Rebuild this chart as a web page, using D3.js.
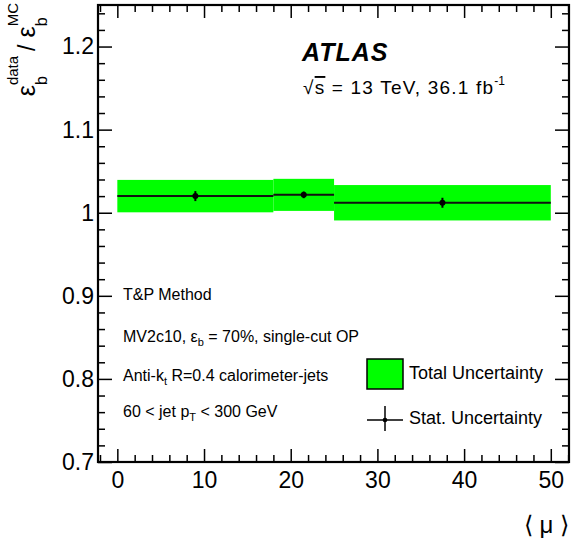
<!DOCTYPE html>
<html>
<head>
<meta charset="utf-8">
<script src="https://cdn.jsdelivr.net/npm/d3@7"></script>
<style>
  html, body { margin: 0; padding: 0; background: #fff; }
  svg text { font-family: "Liberation Sans", Arial, Helvetica, sans-serif; }
</style>
</head>
<body>
<svg id="chart" width="582" height="545"></svg>
<script>
// ---- data ----
const binLow   = [0, 18, 25];
const binHigh  = [18, 25, 50];
const pointX   = [9, 21.5, 37.5];
const sfValue  = [1.020, 1.0215, 1.012];
const totalUnc = [0.0195, 0.0193, 0.0213];
const statUnc  = [0.006, 0.004, 0.006];

const xMajorTicks = [0, 10, 20, 30, 40, 50];
const xTickLabels = ["0", "10", "20", "30", "40", "50"];
const yMajorTicks = [0.7, 0.8, 0.9, 1.0, 1.1, 1.2];
const yTickLabels = ["0.7", "0.8", "0.9", "1", "1.1", "1.2"];
const xMinorStep = 2;
const yMinorStep = 0.02;

const xDomain = [-2.23, 52.1];
const yDomain = [0.7, 1.25];

// ---- layout ----
const L = 98, R = 569, T = 5, B = 462;
const svg = d3.select("#chart");
const x = d3.scaleLinear().domain(xDomain).range([L, R]);
const y = d3.scaleLinear().domain(yDomain).range([B, T]);

const xMinor = d3.range(-2, 52.01, xMinorStep).filter(v => !xMajorTicks.includes(Math.round(v)));
const yMinor = d3.range(0.70, 1.2501, yMinorStep).map(v => +v.toFixed(2)).filter(v => !yMajorTicks.some(m => Math.abs(m - v) < 1e-6));

const green = "#00ff00";

// total uncertainty boxes
svg.append("g").selectAll("rect").data(sfValue).join("rect")
  .attr("x", (d, i) => x(binLow[i]))
  .attr("width", (d, i) => x(binHigh[i]) - x(binLow[i]))
  .attr("y", (d, i) => y(d + totalUnc[i]))
  .attr("height", (d, i) => y(d - totalUnc[i]) - y(d + totalUnc[i]))
  .attr("fill", green);

// central lines
svg.append("g").selectAll("line").data(sfValue).join("line")
  .attr("x1", (d, i) => x(binLow[i]))
  .attr("x2", (d, i) => x(binHigh[i]))
  .attr("y1", d => y(d)).attr("y2", d => y(d))
  .attr("stroke", "#111").attr("stroke-width", 2);

// stat error bars
svg.append("g").selectAll("line").data(sfValue).join("line")
  .attr("x1", (d, i) => x(pointX[i])).attr("x2", (d, i) => x(pointX[i]))
  .attr("y1", (d, i) => y(d + statUnc[i])).attr("y2", (d, i) => y(d - statUnc[i]))
  .attr("stroke", "#000").attr("stroke-width", 2);
svg.append("g").selectAll("circle").data(sfValue).join("circle")
  .attr("cx", (d, i) => x(pointX[i])).attr("cy", d => y(d))
  .attr("r", 3).attr("fill", "#000");

// ---- axes ----
function styleAxis(g) {
  g.select(".domain").remove();
  g.selectAll(".tick line").attr("stroke", "#000").attr("stroke-width", 1.5);
  g.selectAll("text").attr("font-size", 23).attr("fill", "#000")
    .attr("font-family", "'Liberation Sans', Arial, Helvetica, sans-serif");
}
// bottom
svg.append("g").attr("transform", `translate(0,${B})`)
  .call(d3.axisBottom(x).tickValues(xMajorTicks).tickSize(-13).tickPadding(10)
        .tickFormat((d, i) => xTickLabels[i]))
  .call(styleAxis);
svg.append("g").attr("transform", `translate(0,${B})`)
  .call(d3.axisBottom(x).tickValues(xMinor).tickSize(-7).tickFormat(""))
  .call(styleAxis);
// top
svg.append("g").attr("transform", `translate(0,${T})`)
  .call(d3.axisTop(x).tickValues(xMajorTicks).tickSize(-13).tickFormat(""))
  .call(styleAxis);
svg.append("g").attr("transform", `translate(0,${T})`)
  .call(d3.axisTop(x).tickValues(xMinor).tickSize(-7).tickFormat(""))
  .call(styleAxis);
// left
svg.append("g").attr("transform", `translate(${L},0)`)
  .call(d3.axisLeft(y).tickValues(yMajorTicks).tickSize(-14).tickPadding(4)
        .tickFormat((d, i) => yTickLabels[i]))
  .call(styleAxis);
svg.append("g").attr("transform", `translate(${L},0)`)
  .call(d3.axisLeft(y).tickValues(yMinor).tickSize(-7).tickFormat(""))
  .call(styleAxis);
// right
svg.append("g").attr("transform", `translate(${R},0)`)
  .call(d3.axisRight(y).tickValues(yMajorTicks).tickSize(-14).tickFormat(""))
  .call(styleAxis);
svg.append("g").attr("transform", `translate(${R},0)`)
  .call(d3.axisRight(y).tickValues(yMinor).tickSize(-7).tickFormat(""))
  .call(styleAxis);

// frame
svg.append("rect").attr("x", L).attr("y", T).attr("width", R - L).attr("height", B - T)
  .attr("fill", "none").attr("stroke", "#000").attr("stroke-width", 2.2);

// ---- axis titles ----
svg.append("text").attr("x", R).attr("y", 533).attr("text-anchor", "end")
  .attr("font-size", 24).attr("font-family", "'Liberation Serif', 'DejaVu Serif', serif")
  .text("\u27E8 \u03BC \u27E9");

// y title built from pieces in a rotated group
(function () {
  const g = svg.append("g");
  let cx = 0;
  function piece(txt, size, dy) {
    const t = g.append("text").attr("x", cx).attr("y", dy).attr("font-size", size).text(txt);
    return t.node().getComputedTextLength();
  }
  function eps(sup) {
    cx += piece("\u03B5", 25, 0);
    const w1 = piece("b", 16, 12);
    const w2 = piece(sup, 15, -17);
    cx += Math.max(w1, w2);
  }
  eps("data");
  cx += 5;
  cx += piece("/", 23, 0);
  cx += 7;
  eps("MC");
  const total = cx;
  g.attr("transform", `translate(35,${3 + total}) rotate(-90)`);
})();

// ---- ATLAS label ----
svg.append("text").attr("x", 302).attr("y", 61).attr("font-size", 25)
  .attr("letter-spacing", 1)
  .attr("font-weight", "bold").attr("font-style", "italic").text("ATLAS");
const lumi = svg.append("text").attr("x", 303).attr("y", 94).attr("font-size", 19)
  .attr("letter-spacing", 1.2);
lumi.append("tspan").text("\u221A");
lumi.append("tspan").attr("text-decoration", "overline").text("s");
lumi.append("tspan").text(" = 13 TeV, 36.1 fb");
lumi.append("tspan").attr("font-size", 12).attr("dy", -9).attr("letter-spacing", 0).text("-1");

// ---- left info text ----
const infoY = [300, 342, 381, 417];
const info = svg.append("g").attr("font-size", 16);
function addInfo(yy, parts) {
  const t = info.append("text").attr("x", 123).attr("y", yy);
  parts.forEach(p => {
    const s = t.append("tspan").text(p[0]);
    if (p[1] === "sub") s.attr("font-size", 11).attr("dy", 4);
    if (p[1] === "back") s.attr("dy", -4);
  });
}
addInfo(infoY[0], [["T&P Method"]]);
addInfo(infoY[1], [["MV2c10, \u03B5"], ["b", "sub"], [" = 70%, single-cut OP", "back"]]);
addInfo(infoY[2], [["Anti-k"], ["t", "sub"], [" R=0.4 calorimeter-jets", "back"]]);
addInfo(infoY[3], [["60 < jet p"], ["T", "sub"], [" < 300 GeV", "back"]]);

// ---- legend ----
const lg = svg.append("g");
lg.append("rect").attr("x", 367).attr("y", 359).attr("width", 36).attr("height", 30)
  .attr("fill", green).attr("stroke", "#000").attr("stroke-width", 1.5);
lg.append("text").attr("x", 409).attr("y", 379).attr("font-size", 18).text("Total Uncertainty");
lg.append("line").attr("x1", 367).attr("x2", 403).attr("y1", 420).attr("y2", 420)
  .attr("stroke", "#000").attr("stroke-width", 1.5);
lg.append("line").attr("x1", 385).attr("x2", 385).attr("y1", 406).attr("y2", 431)
  .attr("stroke", "#000").attr("stroke-width", 1.5);
lg.append("circle").attr("cx", 385).attr("cy", 420).attr("r", 2.3).attr("fill", "#000");
lg.append("text").attr("x", 409).attr("y", 424).attr("font-size", 18).text("Stat. Uncertainty");
</script>
</body>
</html>
